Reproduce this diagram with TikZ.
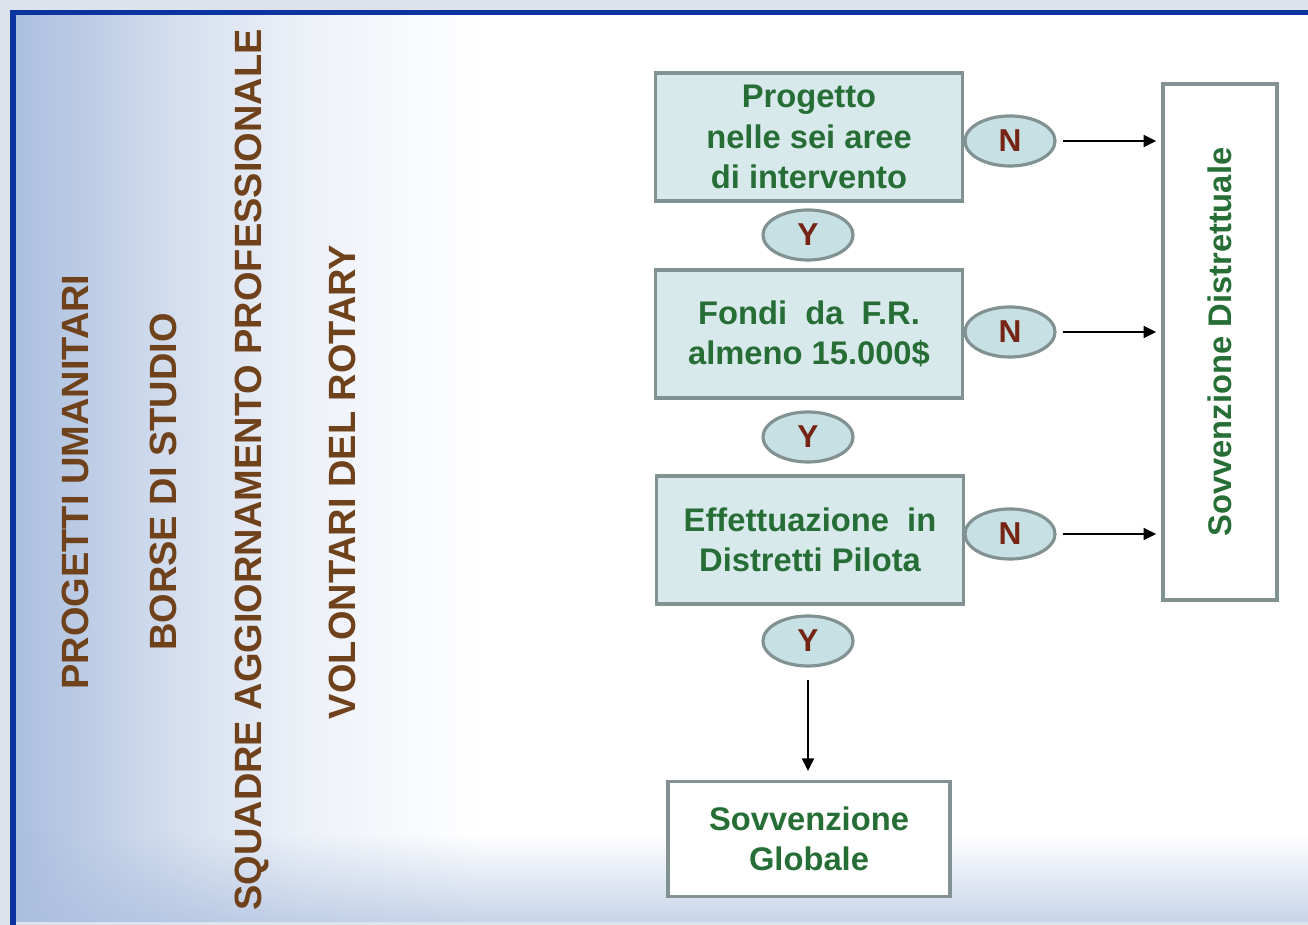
\documentclass[tikz,border=0pt]{standalone}
\usepackage{fontspec}
\setmainfont{Liberation Sans}
\usetikzlibrary{arrows.meta}
\usetikzlibrary{shapes.geometric}
\usetikzlibrary{fadings}
\definecolor{outercol}{RGB}{220,227,237}
\definecolor{framecol}{RGB}{12,52,160}
\definecolor{skycol}{RGB}{170,190,222}
\definecolor{boxfill}{RGB}{216,233,235}
\definecolor{boxline}{RGB}{130,146,146}
\definecolor{ovalfill}{RGB}{198,224,228}
\definecolor{textgreen}{RGB}{38,110,54}
\definecolor{textbrown}{RGB}{112,66,28}
\definecolor{letterred}{RGB}{118,36,20}
\pgfdeclarehorizontalshading{skyshade}{100bp}{color(0bp)=(skycol); color(25bp)=(skycol);
	color(28bp)=(skycol!75!white); color(32bp)=(skycol!45!white); color(36bp)=(skycol!22!white);
	color(43bp)=(white); color(100bp)=(white)}
\tikzfading[name=fadeup, top color=transparent!100, bottom color=transparent!35]
\tikzset{
	stepbox/.style={draw=boxline, line width=1pt, fill=boxfill, align=center, text=textgreen,
		font=\fontsize{9.3}{11.4}\selectfont\bfseries, minimum width=3.07cm, minimum height=1.28cm, inner sep=0pt},
	endbox/.style={stepbox, fill=white},
	oval/.style={ellipse, draw=boxline, line width=0.9pt, fill=ovalfill, text=letterred,
		font=\fontsize{9}{11}\selectfont\bfseries, minimum width=0.9cm, minimum height=0.5cm, inner sep=0pt},
	kind/.style={rotate=90, text=textbrown, font=\fontsize{10.8}{13}\selectfont\bfseries},
	flowarrow/.style={-{Triangle[length=3.6pt, width=3.4pt]}, line width=0.6pt, black}
}
\newcommand{\nobranch}[1]{   % N oval -> Sovvenzione Distrettuale
	\draw[flowarrow, shorten <=1.7pt, shorten >=1.4pt] (#1.east) -- (#1.east -| distr.west);
}

\begin{document}
\begin{tikzpicture}[x=0.01cm, y=-0.01cm]
\useasboundingbox (0,0) rectangle (1308,925);

% background and frame
\fill[outercol] (0,0) rectangle (1308,925);
\fill[framecol] (10,10) rectangle (1308,925);
\shade[shading=skyshade] (16,16) rectangle (1308,925);
\fill[skycol, path fading=fadeup] (16,835) rectangle (1308,922);
\fill[outercol] (16,922) rectangle (1308,925);

% kinds of grant
\node[kind] (umanitari) at (75,482) {PROGETTI UMANITARI};
\node[kind] (borse) at (163,482) {BORSE DI STUDIO};
\node[kind] (squadre) at (252,470) {SQUADRE AGGIORNAMENTO PROFESSIONALE};
\node[kind] (volontari) at (342,482) {VOLONTARI DEL ROTARY};

% decision boxes
\node[stepbox] (aree) at (809,137) {Progetto\\nelle sei aree\\di intervento};
\node[stepbox] (fondi) at (809,334) {Fondi\ \ da\ \ F.R.\\almeno 15.000\$};
\node[stepbox] (pilota) at (810,540) {Effettuazione\ \ in\\Distretti Pilota};

\node[endbox, minimum width=2.82cm, minimum height=1.15cm] (globale) at (809,839) {Sovvenzione\\Globale};
\node[endbox, minimum width=1.14cm, minimum height=5.16cm] (distr) at (1220,342) {};
\node[rotate=90, text=textgreen, font=\fontsize{9.3}{11.4}\selectfont\bfseries] (distrtext) at (distr.center) {Sovvenzione Distrettuale};

% answers
\node[oval] (y1) at (808,235) {Y};
\node[oval] (y2) at (808,437) {Y};
\node[oval] (y3) at (808,641) {Y};
\node[oval] (n1) at (1010,141) {N};
\node[oval] (n2) at (1010,332) {N};
\node[oval] (n3) at (1010,534) {N};

\nobranch{n1}
\nobranch{n2}
\nobranch{n3}
\draw[flowarrow, shorten <=3.4pt, shorten >=2.5pt] (y3) -- (y3 |- globale.north);

\end{tikzpicture}
\end{document}
